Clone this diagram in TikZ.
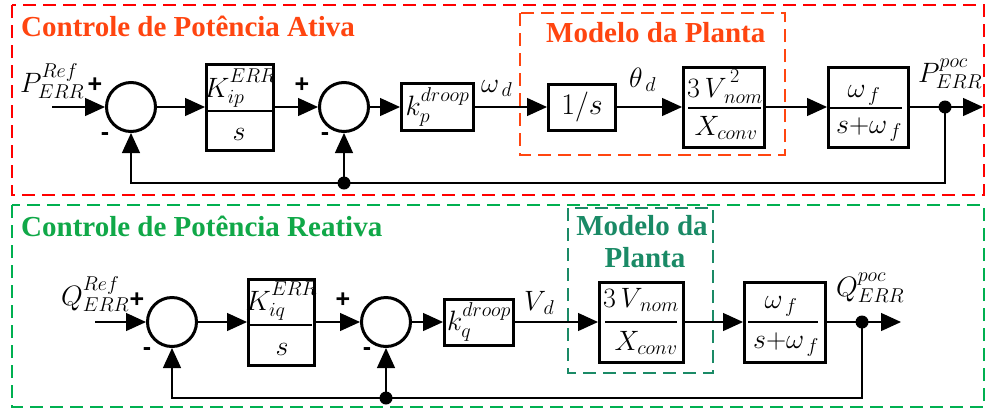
\RequirePackage{fix-cm}
\documentclass[tikz,border=0pt]{standalone}
\usepackage{fontspec}
\newfontfamily\ttlfont{Liberation Serif}
\newfontfamily\sgnfont{Liberation Sans}
\usetikzlibrary{arrows.meta}
\DeclareMathSizes{28}{28}{20}{14}
\DeclareMathSizes{30}{30}{21}{15}
\newcommand\SP[1]{\raisebox{4pt}{$\scriptstyle #1$}}
\definecolor{redD}{HTML}{FF0000}
\definecolor{orgT}{HTML}{FF4510}
\definecolor{grnD}{HTML}{00B050}
\definecolor{grnT}{HTML}{10A848}
\definecolor{tealT}{HTML}{1A8A66}
\begin{document}
\begin{tikzpicture}[x=1pt,y=-1pt,
  sumnode/.style={circle,draw,line width=3pt,minimum size=49pt,inner sep=0pt},
  blk/.style={draw,line width=3pt,inner sep=0pt},
  wire/.style={line width=1.3pt},
  arr/.style={line width=1.3pt,-{Triangle[length=20pt,width=18pt]}},
  jdot/.style={circle,fill,inner sep=0pt,minimum size=13pt},
  sgn/.style={font=\sgnfont\bfseries\fontsize{25}{25}\selectfont,inner sep=0pt},
  mth/.style={font=\fontsize{28}{32}\selectfont,inner sep=0pt},
  ttl/.style={font=\ttlfont\bfseries\fontsize{29}{33}\selectfont,inner sep=0pt,anchor=base west},
  frame/.style={line width=2.5pt,dash pattern=on 13pt off 7pt},
  fracline/.style={line width=2.5pt}]
\useasboundingbox (0,0) rectangle (987,413);

% ---------- frames and titles ----------
\draw[frame,redD] (12,5) rectangle (984,195);
\draw[frame,grnD] (12,205) rectangle (984,407);
\draw[frame,orgT] (520,13) rectangle (785,155);
\draw[frame,tealT] (568,208) rectangle (713,373);
\node[ttl,text=orgT] (tA) at (21,36) {Controle de Potência Ativa};
\node[ttl,text=grnT] (tB) at (21,236) {Controle de Potência Reativa};
\node[ttl,text=orgT] (tMA) at (546,42) {Modelo da Planta};
\node[ttl,text=tealT,anchor=base] (tMB1) at (642,235) {Modelo da};
\node[ttl,text=tealT,anchor=base] (tMB2) at (645,267) {Planta};

% ---------- active power row ----------
\coordinate (iA) at (52,107);
\node[sumnode] (sA1) at (131,107) {};
\node[blk,minimum width=67pt,minimum height=86pt] (KA) at (240,107) {};
\node[sumnode] (sA2) at (344,107) {};
\node[blk,minimum width=72pt,minimum height=47pt,mth] (KpA) at (437.5,107) {$k_p^{\SP{droop}}$};
\node[blk,minimum width=67pt,minimum height=46pt,font=\fontsize{30}{34}\selectfont] (ISA) at (582,107) {$1/s$};
\node[blk,minimum width=81pt,minimum height=80pt] (VA) at (724,107) {};
\node[blk,minimum width=80pt,minimum height=80pt] (FA) at (868.5,107) {};
\node[jdot] (dA) at (945,107) {};
\coordinate (oA) at (983,107);
\node[jdot] (jA) at (344,183) {};

% box contents
\node[mth,anchor=base] (KAn) at (240,97) {$K_{ip}^{\SP{ERR}}$};
\draw[fracline] (208,111) -- (272,111);
\node[mth,anchor=base] (KAd) at (239,140) {$s$};
\node[mth,anchor=base] (VAn) at (725,97) {$3\,V_{\,nom}^{\,\SP{2}}$};
\draw[fracline] (688,108) -- (761,108);
\node[mth,anchor=base] (VAd) at (726,135) {$X_{conv}$};
\node[mth,anchor=base] (FAn) at (864,97) {$\omega_{\,f}$};
\draw[fracline] (830,108) -- (902,108);
\node[mth,anchor=base] (FAd) at (869,133) {$s{\mathbf{+}}\omega_{\,f}$};

% labels
\node[mth,anchor=base west] (lPr) at (20,92) {$P_{ERR}^{\SP{Ref}}$};
\node[mth,anchor=base west] (lPp) at (918,82) {$P_{ERR}^{\SP{poc}}$};
\node[mth,anchor=base west] (lwd) at (481,92) {$\omega_{\,d}$};
\node[mth,anchor=base west] (ltd) at (629,87) {$\theta_{\,d}$};
\node[sgn] (pA1) at (95,85) {+};
\node[sgn] (mA1) at (105,137) {-};
\node[sgn] (pA2) at (302,85) {+};
\node[sgn] (mA2) at (325,137) {-};

% connectors
\draw[arr] (iA) -- (sA1.west);
\draw[arr] (sA1.east) -- (KA.west);
\draw[arr] (KA.east) -- (sA2.west);
\draw[arr] (sA2.east) -- (KpA.west);
\draw[arr] (KpA.east) -- (ISA.west);
\draw[arr] (ISA.east) -- (VA.west);
\draw[arr] (VA.east) -- (FA.west);
\draw[arr] (FA.east) -- (oA);
\draw[wire] (dA.center) |- (jA.center);
\draw[arr] (jA.center) -| (sA1.south);
\draw[arr] (jA.center) -- (sA2.south);

% ---------- reactive power row ----------
\coordinate (iB) at (95,322);
\node[sumnode] (sB1) at (172,322) {};
\node[blk,minimum width=66pt,minimum height=86pt] (KB) at (281.5,322) {};
\node[sumnode] (sB2) at (386,322) {};
\node[blk,minimum width=69pt,minimum height=46pt,mth] (KqB) at (479,322) {$k_q^{\SP{droop}}$};
\node[blk,minimum width=84pt,minimum height=80pt] (VB) at (641.5,322) {};
\node[blk,minimum width=81pt,minimum height=80pt] (FB) at (785,322) {};
\node[jdot] (dB) at (862,322) {};
\coordinate (oB) at (901,322);
\node[jdot] (jB) at (386,398) {};

\node[mth,anchor=base] (KBn) at (281.5,310) {$K_{iq}^{\SP{ERR}}$};
\draw[fracline] (250,325) -- (312,325);
\node[mth,anchor=base] (KBd) at (282,355) {$s$};
\node[mth,anchor=base] (VBn) at (641,307) {$3\,V_{\,nom}$};
\draw[fracline] (605,322) -- (677,322);
\node[mth,anchor=base] (VBd) at (646,350) {$X_{conv}$};
\node[mth,anchor=base] (FBn) at (781,308) {$\omega_{\,f}$};
\draw[fracline] (748,322) -- (818,322);
\node[mth,anchor=base] (FBd) at (786,348) {$s{\mathbf{+}}\omega_{\,f}$};

\node[mth,anchor=base west] (lQr) at (61,305) {$Q_{ERR}^{\SP{Ref}}$};
\node[mth,anchor=base west] (lQp) at (836,296) {$Q_{ERR}^{\SP{poc}}$};
\node[mth,anchor=base west] (lVd) at (524,310) {$V_{\,d}$};
\node[sgn] (pB1) at (137,300) {+};
\node[sgn] (mB1) at (147,352) {-};
\node[sgn] (pB2) at (343,300) {+};
\node[sgn] (mB2) at (367,352) {-};

\draw[arr] (iB) -- (sB1.west);
\draw[arr] (sB1.east) -- (KB.west);
\draw[arr] (KB.east) -- (sB2.west);
\draw[arr] (sB2.east) -- (KqB.west);
\draw[arr] (KqB.east) -- (VB.west);
\draw[arr] (VB.east) -- (FB.west);
\draw[arr] (FB.east) -- (oB);
\draw[wire] (dB.center) |- (jB.center);
\draw[arr] (jB.center) -| (sB1.south);
\draw[arr] (jB.center) -- (sB2.south);
\end{tikzpicture}
\end{document}
